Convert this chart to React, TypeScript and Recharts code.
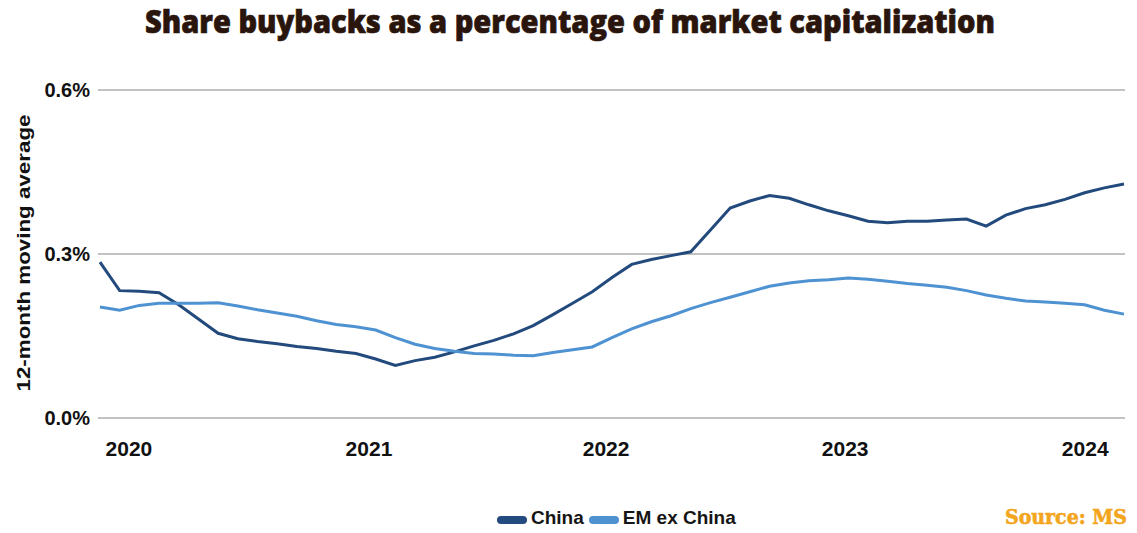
import React from 'react';
import { LineChart, Line, XAxis, YAxis, CartesianGrid, Legend } from 'recharts';

const chinaValues = [
  0.285, 0.233, 0.232, 0.229, 0.207, 0.181, 0.155, 0.145, 0.140, 0.136,
  0.131, 0.127, 0.122, 0.118, 0.108, 0.096, 0.105, 0.111, 0.121, 0.132,
  0.142, 0.154, 0.169, 0.189, 0.210, 0.231, 0.257, 0.281, 0.290, 0.297,
  0.304, 0.344, 0.384, 0.397, 0.407, 0.402, 0.390, 0.379, 0.370, 0.360,
  0.357, 0.360, 0.360, 0.362, 0.364, 0.351, 0.371, 0.383, 0.390, 0.400,
  0.412, 0.421, 0.428,
];

const emValues = [
  0.203, 0.197, 0.206, 0.210, 0.210, 0.210, 0.211, 0.205, 0.198, 0.192,
  0.186, 0.178, 0.171, 0.167, 0.161, 0.147, 0.135, 0.127, 0.122, 0.118,
  0.117, 0.115, 0.114, 0.120, 0.125, 0.130, 0.147, 0.163, 0.176, 0.187,
  0.200, 0.211, 0.221, 0.231, 0.241, 0.247, 0.251, 0.253, 0.256, 0.254,
  0.250, 0.246, 0.243, 0.239, 0.233, 0.225, 0.219, 0.214, 0.212, 0.210,
  0.207, 0.197, 0.190,
];

const yearTicks = [1.47, 13.66, 25.7, 37.84, 50.03];
const yearLabels = ['2020', '2021', '2022', '2023', '2024'];
const yTicks = [0, 0.3, 0.6];

const seriesNames = ['China', 'EM ex China'];
const seriesColors = ['#234a7c', '#4e92d2'];

const data = chinaValues.map((v, i) => ({ m: i, china: v, em: emValues[i] }));

const FONT = '"Liberation Sans", Arial, sans-serif';

const renderLegend = (props: any) => {
  const payload = props.payload || [];
  return (
    <div style={{ display: 'flex', alignItems: 'center', fontFamily: FONT, fontWeight: 700, fontSize: 19, color: '#151515' }}>
      {payload.map((p: any, i: number) => (
        <div key={i} style={{ display: 'flex', alignItems: 'center', marginRight: 5 }}>
          <div style={{ width: 30, height: 8, borderRadius: 4, background: p.color, marginRight: 4, marginTop: 3 }} />
          <span>{p.value}</span>
        </div>
      ))}
    </div>
  );
};

export default function App() {
  return (
    <div style={{ position: 'absolute', left: 0, top: 0, width: 1137, height: 533, background: '#fff' }}>
      <LineChart width={1137} height={533} data={data} margin={{ top: 90, right: 12, bottom: 75, left: 0 }}>
        <CartesianGrid vertical={false} stroke="#c2c2c2" strokeWidth={2} />
        <XAxis
          dataKey="m"
          type="number"
          domain={[-0.1, 52.05]}
          ticks={yearTicks}
          interval={0}
          tickFormatter={(v: number) => yearLabels[yearTicks.indexOf(v)] ?? ''}
          axisLine={false}
          tickLine={false}
          tickMargin={17}
          height={40}
          tick={{ fontFamily: FONT, fontWeight: 700, fontSize: 21, fill: '#111' }}
        />
        <YAxis
          domain={[0, 0.6]}
          ticks={yTicks}
          width={98}
          axisLine={false}
          tickLine={false}
          tickFormatter={(v: number) => v.toFixed(1) + '%'}
          tick={{ fontFamily: FONT, fontWeight: 700, fontSize: 20, fill: '#111' }}
        />
        <Line dataKey="china" name={seriesNames[0]} stroke={seriesColors[0]} strokeWidth={3} dot={false} isAnimationActive={false} />
        <Line dataKey="em" name={seriesNames[1]} stroke={seriesColors[1]} strokeWidth={3} dot={false} isAnimationActive={false} />
        <Legend
          layout="horizontal"
          verticalAlign="middle"
          align="center"
          content={renderLegend}
          wrapperStyle={{ left: 497, top: 507, width: 260, height: 26 }}
        />
      </LineChart>
      <svg width={1137} height={533} style={{ position: 'absolute', left: 0, top: 0, pointerEvents: 'none' }}>
        <text x={570} y={33} textAnchor="middle" fontFamily='"Open Sans", sans-serif' fontWeight={800} fontSize={32} fill="#2a150d" stroke="#2a150d" strokeWidth={0.7} textLength={850} lengthAdjust="spacingAndGlyphs">
          Share buybacks as a percentage of market capitalization
        </text>
        <text x={30} y={253} transform="rotate(-90 30 253)" textAnchor="middle" fontFamily={FONT} fontWeight={700} fontSize={19} fill="#111" textLength={277} lengthAdjust="spacingAndGlyphs">
          12-month moving average
        </text>
        <text x={1127} y={524} textAnchor="end" fontFamily='"DejaVu Serif", serif' fontWeight={700} fontSize={20} fill="#f3a51c" stroke="#f3a51c" strokeWidth={0.6} textLength={122} lengthAdjust="spacingAndGlyphs">
          Source: MS
        </text>
      </svg>
    </div>
  );
}
